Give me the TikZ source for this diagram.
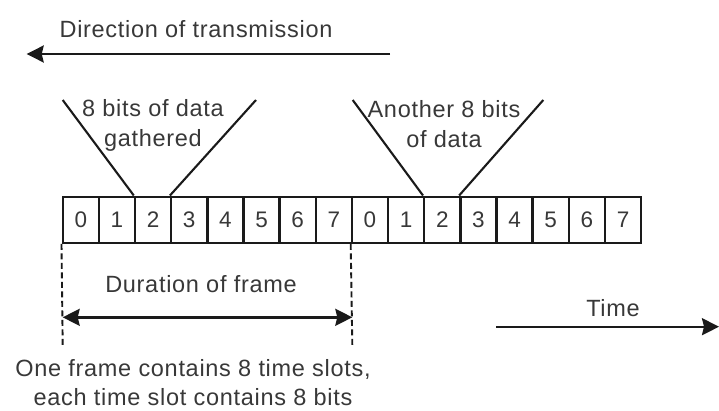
\documentclass[tikz,border=0pt]{standalone}
\usepackage{fontspec}
\setmainfont{Liberation Sans}[LetterSpace=3]
\usetikzlibrary{arrows.meta}
\definecolor{ink}{HTML}{1A1A1A}
\definecolor{txt}{HTML}{383838}
\tikzset{
  lbl/.style={text=txt, inner sep=0pt, font=\fontsize{23.5}{30}\selectfont, align=center},
  slot/.style={draw=ink, line width=2.4pt, minimum width=36.15pt, minimum height=46pt,
               inner sep=0pt, text=txt, font=\fontsize{22.5}{26}\selectfont},
  funnel/.style={draw=ink, line width=2.1pt},
  guide/.style={draw=ink, line width=1.9pt, dash pattern=on 6pt off 3.5pt},
  flow/.style={draw=ink, line width=2.4pt, -{Stealth[length=17pt,width=17pt,inset=2pt]}},
  span/.style={draw=ink, line width=2.4pt, {Stealth[length=17pt,width=17pt,inset=2pt]}-{Stealth[length=17pt,width=17pt,inset=2pt]}}
}
\begin{document}
\begin{tikzpicture}[x=1pt,y=-1pt]
  \useasboundingbox (0,0) rectangle (719,410);

  % direction of transmission
  \node[lbl, anchor=base] (dirtxt) at (196,37) {Direction of transmission};
  \coordinate (dirA) at (390,54);
  \coordinate (dirB) at (26.7,54);
  \draw[flow] (dirA) -- (dirB);

  % two frames of eight time slots
  \foreach \i in {0,...,15} {
    \pgfmathtruncatemacro{\d}{mod(\i,8)}
    \node[slot] (s\i) at ({62.7+36.15*(\i+0.5)},219.7) {\d};
  }

  % funnels of gathered data
  \coordinate (fa1) at (62.7,100);
  \coordinate (fa2) at (256,100);
  \coordinate (fb1) at (352.7,100);
  \coordinate (fb2) at (543.3,100);
  \draw[funnel] (fa1) -- (s2.north west);
  \draw[funnel] (fa2) -- (s3.north west);
  \draw[funnel] (fb1) -- (s10.north west);
  \draw[funnel] (fb2) -- (s11.north west);
  % base anchor of a two-line label sits on its last line
  \node[lbl, anchor=base] (gathA) at (153,146.5) {8 bits of data\\gathered};
  \node[lbl, anchor=base] (gathB) at (444,147.5) {Another 8 bits\\of data};

  % frame duration
  \coordinate (fl) at (62.7,345);
  \coordinate (fr) at (352.3,345);
  \draw[guide] (s0.south west) -- (fl);
  \draw[guide] (s8.south west) -- (fr);
  \coordinate (dl) at (62.7,317.3);
  \coordinate (dr) at (352.3,317.3);
  \draw[span] (dl) -- (dr);
  \node[lbl, anchor=base] (durtxt) at (201,292.3) {Duration of frame};

  % time axis
  \coordinate (tA) at (496,326.7);
  \coordinate (tB) at (719,326.7);
  \draw[flow] (tA) -- (tB);
  \node[lbl, anchor=base] (timetxt) at (613,316) {Time};

  % caption
  \node[lbl, anchor=base, font=\fontsize{23.5}{29}\selectfont] (caption) at (193,405) {One frame contains 8 time slots,\\each time slot contains 8 bits};
\end{tikzpicture}
\end{document}
